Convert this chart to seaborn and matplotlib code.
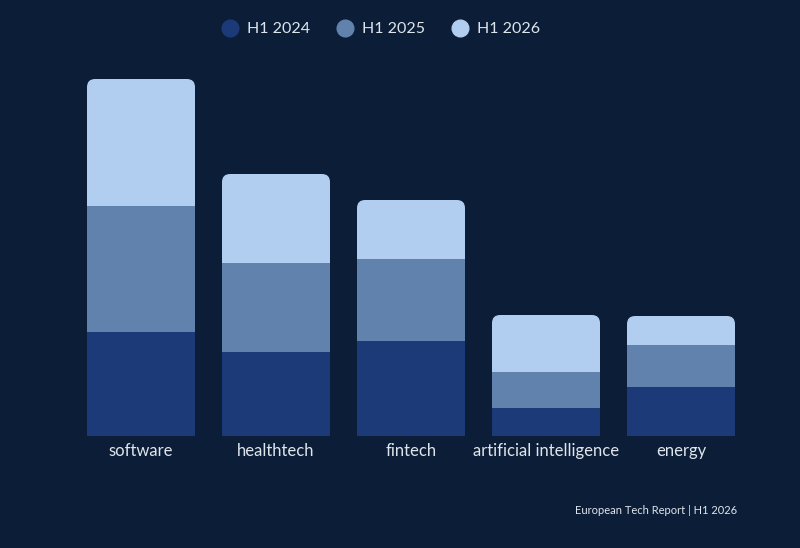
import numpy as np
import pandas as pd
import matplotlib
matplotlib.use("Agg")
import matplotlib.pyplot as plt
from matplotlib.patches import FancyBboxPatch
from matplotlib.lines import Line2D
import seaborn as sns

categories = ["software", "healthtech", "fintech", "artificial intelligence", "energy"]
series = ["H1 2024", "H1 2025", "H1 2026"]
h1_2024 = [104, 84, 95, 28, 49]
h1_2025 = [126, 89, 82, 36, 42]
h1_2026 = [127, 89, 59, 57, 29]
colors = ["#1c3a78", "#6282ae", "#b1cdef"]

BG = "#0c1e37"
TXT = "#dfe5ec"

sns.set_theme(style="white")
plt.rcParams["font.family"] = ["Lato", "DejaVu Sans"]

df = pd.DataFrame({"category": categories, "a": h1_2024, "b": h1_2025, "c": h1_2026})
df["ab"] = df["a"] + df["b"]
df["abc"] = df["ab"] + df["c"]

fig = plt.figure(figsize=(8, 5.48), dpi=100, facecolor=BG)
ax = fig.add_axes([73.5 / 800, (548 - 436) / 548, 675 / 800, 380 / 548])
ax.set_facecolor(BG)

# top layer drawn as full-height bars, then rounded
sns.barplot(data=df, x="category", y="abc", color=colors[2], width=0.8,
            saturation=1, ax=ax, linewidth=0)
top_patches = list(ax.patches)
for p in top_patches:
    x, w, h = p.get_x(), p.get_width(), p.get_height()
    p.remove()
    fb = FancyBboxPatch((x, 0), w, h, boxstyle="round,pad=0,rounding_size=0.06",
                        mutation_aspect=135, facecolor=colors[2], linewidth=0)
    ax.add_patch(fb)

sns.barplot(data=df, x="category", y="ab", color=colors[1], width=0.8,
            saturation=1, ax=ax, linewidth=0)
sns.barplot(data=df, x="category", y="a", color=colors[0], width=0.8,
            saturation=1, ax=ax, linewidth=0)

ax.set_xlim(-0.5, 4.5)
ax.set_ylim(0, 380)
ax.set_xlabel("")
ax.set_ylabel("")
ax.set_yticks([])
ax.tick_params(axis="x", colors=TXT, labelsize=12, length=0, pad=5)
for s in ax.spines.values():
    s.set_visible(False)

handles = [Line2D([0], [0], marker="o", linestyle="", markersize=12,
                  markerfacecolor=c, markeredgecolor=c) for c in colors]
fig.legend(handles, series, loc="center", bbox_to_anchor=(381 / 800, 1 - 29 / 548),
           ncol=3, frameon=False, fontsize=11.5, labelcolor=TXT,
           handlelength=1.0, handletextpad=0.55, columnspacing=1.7)

fig.text(737 / 800, 1 - 511 / 548, "European Tech Report | H1 2026", color=TXT,
         fontsize=8, ha="right", va="center")

fig.savefig("out.png", dpi=100, facecolor=BG)
